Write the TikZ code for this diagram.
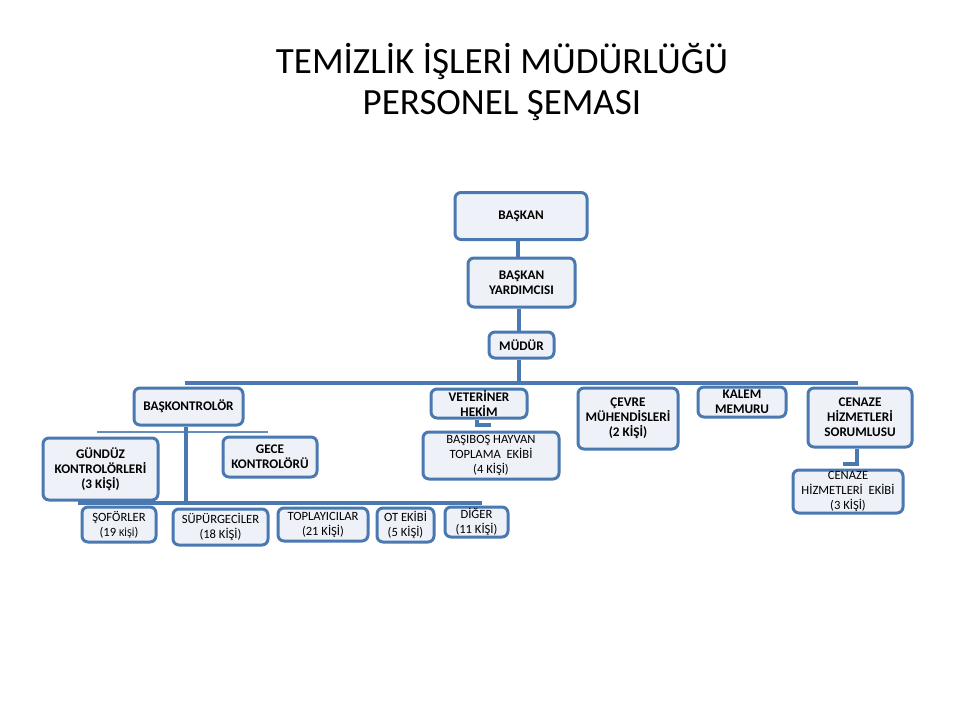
\documentclass[tikz,border=0pt]{standalone}
\usepackage{fontspec}
\setmainfont{Carlito}
\definecolor{boxline}{HTML}{4A78B0}
\definecolor{boxfill}{HTML}{EEF2F8}
\tikzset{
  orgbox/.style={draw=boxline, line width=3pt, fill=boxfill, rounded corners=6pt,
    inner sep=0pt, align=center, font=\bfseries\fontsize{13.2}{15}\selectfont},
  plainbox/.style={orgbox, font=\fontsize{12.6}{15}\selectfont},
  link/.style={draw=boxline, line width=3.3pt},
  thinlink/.style={draw=boxline!85, line width=2pt}
}
\begin{document}
\begin{tikzpicture}[x=1pt,y=-1pt]
\useasboundingbox (0,0) rectangle (960,720);
\node[align=center, font=\fontsize{37}{41}\selectfont] (title) at (502,82) {TEMİZLİK İŞLERİ MÜDÜRLÜĞÜ\\PERSONEL ŞEMASI};

\coordinate (busL) at (185,383);
\coordinate (busR) at (858,383);
\coordinate (subL) at (97,432);
\coordinate (subR) at (268,432);
\coordinate (botL) at (78,503);
\coordinate (botR) at (482,503);
\coordinate (vetj) at (491,425);
\coordinate (cenj) at (843,464);

\node[orgbox, minimum width=132pt, minimum height=47pt] (baskan) at (521,216) {BAŞKAN};
\node[orgbox, minimum width=107pt, minimum height=49pt] (yard) at (521.5,282.5) {BAŞKAN\\YARDIMCISI};
\node[orgbox, minimum width=65pt, minimum height=26pt] (mudur) at (521.5,345) {MÜDÜR};

\draw[link] (baskan.south -| 518,0) -- (yard.north -| 518,0);
\draw[link] (yard.south -| 519,0) -- (mudur.north -| 519,0);
\draw[link] (mudur.south -| 519,0) -- (busL -| 519,0);
\draw[link] (busL) -- (busR);
\draw[thinlink] (subL) -- (subR);
\draw[link] (botL) -- (botR);

\node[orgbox, minimum width=109pt, minimum height=37pt] (baskont) at (188.5,406.5) {BAŞKONTROLÖR};
\draw[link] (baskont.south -| 186,0) -- (botL -| 186,0);
\node[orgbox, minimum width=115pt, minimum height=62pt] (gunduz) at (100.5,469) {GÜNDÜZ\\KONTROLÖRLERİ\\(3 KİŞİ)};
\node[orgbox, minimum width=94pt, minimum height=40pt] (gece) at (270,457) {GECE\\KONTROLÖRÜ};

\node[plainbox, minimum width=74pt, minimum height=35pt] (sofor) at (119,524.5) {ŞOFÖRLER\\(19 {\fontsize{10.5}{12}\selectfont KİŞİ})};
\node[plainbox, minimum width=95pt, minimum height=36pt] (supur) at (220.5,527) {SÜPÜRGECİLER\\(18 KİŞİ)};
\node[plainbox, minimum width=90pt, minimum height=33pt] (topla) at (323,524.5) {TOPLAYICILAR\\(21 KİŞİ)};
\node[plainbox, minimum width=57pt, minimum height=34pt] (ot) at (405.5,525) {OT EKİBİ\\(5 KİŞİ)};
\node[plainbox, minimum width=63pt, minimum height=30pt] (diger) at (476.5,522) {DİĞER\\(11 KİŞİ)};

\node[orgbox, minimum width=96pt, minimum height=29pt] (vet) at (479,403.5) {VETERİNER\\HEKİM};
\draw[link] (vet.south -| 477,0) |- (vetj);
\node[plainbox, minimum width=136pt, minimum height=47pt] (basibos) at (491,455.5) {BAŞIBOŞ HAYVAN\\TOPLAMA \ EKİBİ\\(4 KİŞİ)};

\node[orgbox, minimum width=100pt, minimum height=61pt] (cevre) at (628,418.5) {ÇEVRE\\MÜHENDİSLERİ\\(2 KİŞİ)};
\node[orgbox, minimum width=88pt, minimum height=30pt] (kalem) at (742,402) {KALEM\\MEMURU};
\node[orgbox, minimum width=104pt, minimum height=59pt] (cenaze) at (860,417.5) {CENAZE\\HİZMETLERİ\\SORUMLUSU};
\draw[link] (cenaze.south -| 857,0) |- (cenj);
\node[plainbox, minimum width=110pt, minimum height=43pt] (ekibi) at (848,491.5) {CENAZE\\HİZMETLERİ \ EKİBİ\\(3 KİŞİ)};
\end{tikzpicture}
\end{document}
